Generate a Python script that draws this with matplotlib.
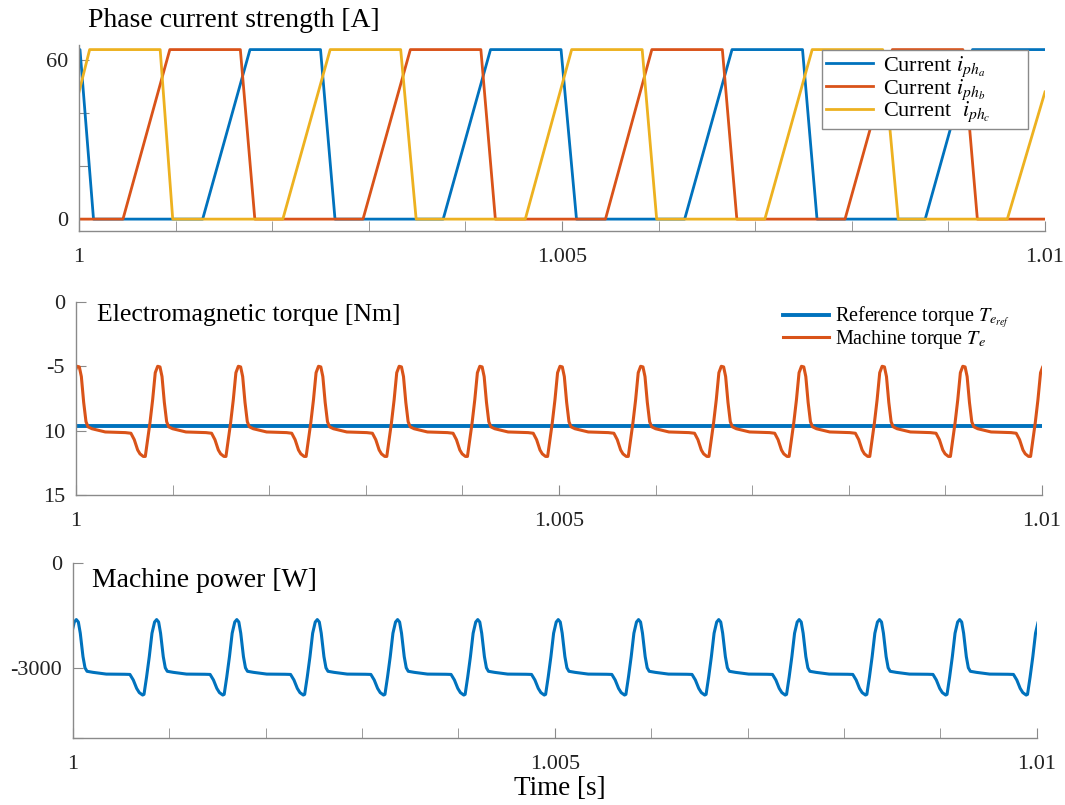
import numpy as np
import matplotlib
matplotlib.use('Agg')
import matplotlib.pyplot as plt

plt.rcParams['font.family'] = ['Liberation Serif', 'DejaVu Serif']
plt.rcParams['mathtext.fontset'] = 'stix'

BLUE = '#0072BD'
ORANGE = '#D95319'
YELLOW = '#EDB120'

# phase currents, breakpoints (time in ms after t = 1 s)
t_a = [0, 0.01, 0.15, 1.28, 1.77, 2.50, 2.65, 3.77, 4.26, 4.99, 5.15, 6.27, 6.76, 7.49, 7.64, 8.76, 9.25, 10]
i_a = [64, 64, 0, 0, 64, 64, 0, 0, 64, 64, 0, 0, 64, 64, 0, 0, 64, 64]
t_b = [0, 0.455, 0.94, 1.67, 1.82, 2.94, 3.43, 4.16, 4.31, 5.45, 5.93, 6.66, 6.81, 7.93, 8.42, 9.15, 9.30, 10]
i_b = [0, 0, 64, 64, 0, 0, 64, 64, 0, 0, 64, 64, 0, 0, 64, 64, 0, 0]
t_c = [0, 0.11, 0.84, 0.97, 2.11, 2.60, 3.33, 3.49, 4.62, 5.10, 5.83, 5.98, 7.10, 7.59, 8.32, 8.48, 9.61, 10]
i_c = [48, 64, 64, 0, 0, 64, 64, 0, 0, 64, 64, 0, 0, 64, 64, 0, 0, 48]

# torque: one ripple shape (offset from peak in ms, value in Nm) and the peak times
torque_peaks = [0.02, 0.855, 1.69, 2.52, 3.355, 4.19, 5.02, 5.855, 6.69, 7.52, 8.355, 9.19, 10.02]
torque_off = [-0.287, -0.252, -0.217, -0.193, -0.159, -0.138, -0.114, -0.090, -0.062, -0.035,
              -0.010, 0.014, 0.035, 0.059, 0.083, 0.104, 0.145, 0.283, 0.49]
torque_val = [-10.2, -10.7, -11.5, -11.8, -12.0, -12.0, -10.7, -9.4, -7.6, -5.5,
              -5.0, -5.05, -5.8, -7.8, -9.3, -9.7, -9.85, -10.1, -10.15]
torque_ref = -9.6

# power: same idea (W)
power_peaks = [0.035, 0.868, 1.70, 2.535, 3.368, 4.20, 5.035, 5.868, 6.70, 7.535, 8.368, 9.20, 10.035]
power_off = [-0.277, -0.242, -0.207, -0.180, -0.145, -0.131, -0.104, -0.076, -0.048, -0.021,
             0.0, 0.021, 0.041, 0.069, 0.090, 0.111, 0.173, 0.311, 0.50]
power_val = [-3180, -3340, -3580, -3700, -3770, -3750, -3250, -2670, -2000, -1680,
             -1610, -1680, -2000, -2670, -2990, -3090, -3120, -3170, -3175]


def tile(peaks, offs, vals):
    t = np.concatenate([p + np.array(offs) for p in peaks])
    v = np.tile(vals, len(peaks))
    return t, v


def sec(t):
    return 1 + np.array(t) / 1000.0


def style(ax):
    for s in ['top', 'right']:
        ax.spines[s].set_visible(False)
    for s in ['left', 'bottom']:
        ax.spines[s].set_color('#8a8a8a')
        ax.spines[s].set_linewidth(1.0)
    ax.set_xlim(1, 1.01)
    ax.set_xticks([1, 1.005, 1.01])
    ax.set_xticklabels(['1', '1.005', '1.01'])
    ax.set_xticks(np.arange(1, 1.0101, 0.001), minor=True)
    ax.tick_params(which='both', direction='in', color='#8a8a8a', labelsize=16,
                   labelcolor='#222222')
    ax.tick_params(which='major', length=7)
    ax.tick_params(which='minor', length=7)
    ax.tick_params(axis='x', which='both', pad=12)
    ax.tick_params(axis='y', pad=8)
    ax.patch.set_alpha(0)


fig = plt.figure(figsize=(10.65, 8.05), dpi=100)

# phase currents
ax1 = fig.add_axes([0.0742, 0.713, 0.907, 0.231])
ax1.plot(sec(t_a), i_a, color=BLUE, lw=2, label='Current $i_{ph_a}$')
ax1.plot(sec(t_b), i_b, color=ORANGE, lw=2, label='Current $i_{ph_b}$')
ax1.plot(sec(t_c), i_c, color=YELLOW, lw=2, label='Current  $i_{ph_c}$')
style(ax1)
ax1.set_ylim(-4.5, 65.7)
ax1.set_yticks([0, 20, 40, 60])
ax1.set_yticklabels(['0', '', '', '60'])
leg1 = ax1.legend(loc='upper left', bbox_to_anchor=(0.769, 0.5, 0.213, 0.473), mode='expand',
                  fontsize=16, frameon=True, fancybox=False, edgecolor='#8a8a8a', framealpha=1,
                  handlelength=2.1, handletextpad=0.45, labelspacing=-0.08, borderpad=0.2,
                  borderaxespad=0.0)
leg1.get_frame().set_linewidth(1.0)

# torque
ax2 = fig.add_axes([0.0714, 0.385, 0.907, 0.240])
tt, tv = tile(torque_peaks, torque_off, torque_val)
ax2.plot([1, 1.01], [torque_ref, torque_ref], color=BLUE, lw=2.8, label='Reference torque $T_{e_{ref}}$')
ax2.plot(sec(tt), tv, color=ORANGE, lw=2.2, label='Machine torque $T_e$')
style(ax2)
ax2.set_ylim(-15, 0)
ax2.set_yticks([-15, -10, -5, 0])
ax2.set_yticklabels(['15', '10', '-5', '0'])
ax2.legend(loc='upper left', bbox_to_anchor=(0.732, 0.985), fontsize=14.5, frameon=False,
           handlelength=2.3, handletextpad=0.3, labelspacing=-0.1, borderpad=0.0,
           borderaxespad=0.0)

# power
ax3 = fig.add_axes([0.0685, 0.0832, 0.905, 0.217])
pt, pv = tile(power_peaks, power_off, power_val)
ax3.plot(sec(pt), pv, color=BLUE, lw=2.2)
style(ax3)
ax3.set_ylim(-5000, 0)
ax3.set_yticks([-5000, -3000, 0])
ax3.set_yticklabels(['', '-3000', '0'])

fig.text(0.083, 0.975, 'Phase current strength [A]', fontsize=20, va='center', ha='left')
fig.text(0.091, 0.609, 'Electromagnetic torque [Nm]', fontsize=18.5, va='center', ha='left')
fig.text(0.086, 0.279, 'Machine power [W]', fontsize=20, va='center', ha='left')
fig.text(0.526, 0.021, 'Time [s]', fontsize=19.5, va='center', ha='center')

fig.savefig('out.png', dpi=100)
